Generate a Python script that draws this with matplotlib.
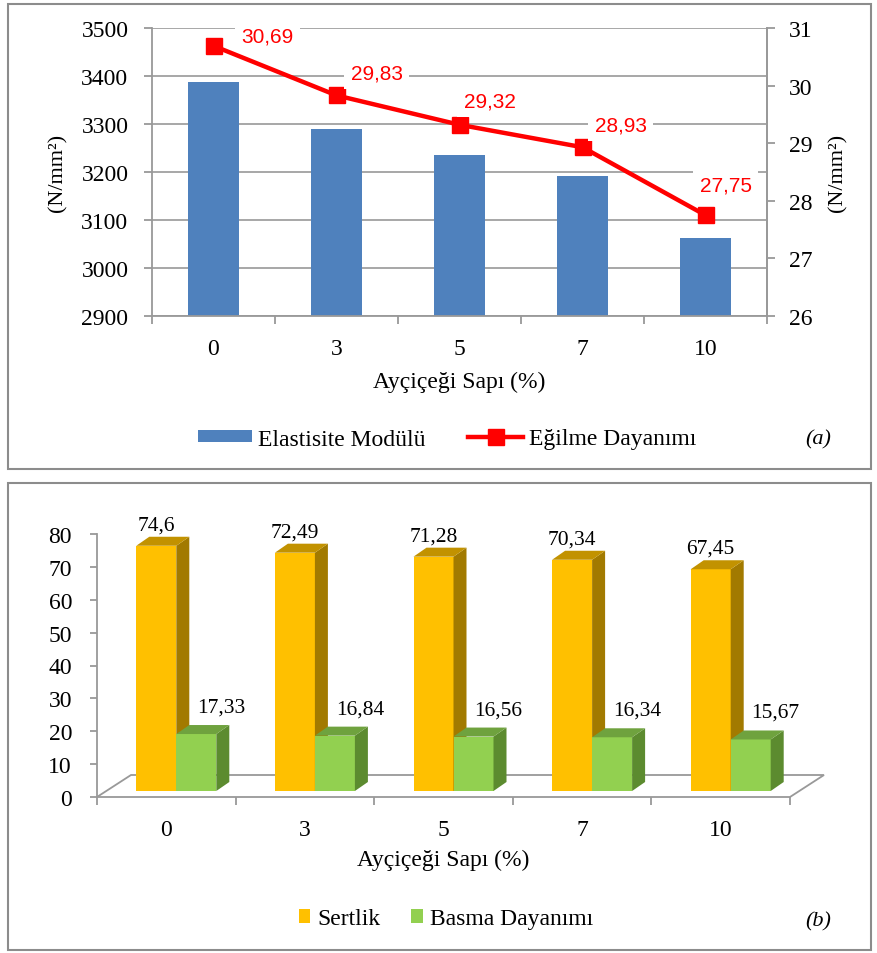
import numpy as np
import matplotlib.pyplot as plt
from matplotlib.patches import Rectangle, Polygon, Patch
from matplotlib.lines import Line2D

W, H = 877, 954

categories = ['0', '3', '5', '7', '10']
elastisite = [3387, 3290, 3235, 3192, 3062]
egilme = [30.69, 29.83, 29.32, 28.93, 27.75]
sertlik = [74.6, 72.49, 71.28, 70.34, 67.45]
basma = [17.33, 16.84, 16.56, 16.34, 15.67]

# label offsets (pixels) for the red line labels
line_label_off = [(54, 10), (40, 22), (30, 24), (38, 22), (20, 30)]

plt.rcParams['font.family'] = ['Liberation Serif', 'DejaVu Serif']
GREY = '#999999'


def px_rect(l, t, r, b):
    return [l / W, 1 - b / H, (r - l) / W, (b - t) / H]


def fmt(v):
    return f'{v:g}'.replace('.', ',')


fig = plt.figure(figsize=(W / 100, H / 100), dpi=100)

# panel borders
for (l, t, r, b) in [(8, 5, 871, 470), (8, 484, 871, 951)]:
    fig.patches.append(Rectangle((l / W, 1 - b / H), (r - l) / W, (b - t) / H,
                                 transform=fig.transFigure, fill=False,
                                 edgecolor='#8c8c8c', lw=1.5))

# ---------------- (a) ----------------
x = np.arange(len(categories))
ax1 = fig.add_axes(px_rect(152, 29, 767, 317))
ax1.bar(x, elastisite, width=0.41, color='#4F81BD', zorder=2)
ax1.set_xlim(-0.5, 4.5)
ax1.set_ylim(2900, 3500)
ax1.set_yticks(range(2900, 3501, 100))
ax1.grid(axis='y', color='#a0a0a0', lw=1.3, zorder=0)
ax1.set_axisbelow(True)
ax1.set_xticks(x)
ax1.set_xticklabels(categories)
ax1.set_xticks(np.arange(-0.5, 5, 1), minor=True)
ax1.tick_params(axis='x', which='major', length=0, labelsize=17, pad=16)
ax1.tick_params(axis='x', which='minor', length=6, color=GREY, width=1.3)
ax1.tick_params(axis='y', length=6, color=GREY, width=1.3, labelsize=17, pad=11)
ax1.spines['top'].set_visible(False)
for s in ['left', 'bottom', 'right']:
    ax1.spines[s].set_color(GREY)
    ax1.spines[s].set_linewidth(1.3)
ax1.set_ylabel('(N/mm²)', fontsize=16)
ax1.yaxis.set_label_coords(-0.137, 0.5)
ax1.set_xlabel('Ayçiçeği Sapı (%)', fontsize=17, labelpad=8)

ax2 = ax1.twinx()
ax2.plot(x, egilme, color='#FF0000', lw=3.2, marker='s', markersize=11, zorder=3)
ax2.set_ylim(26, 31)
ax2.set_yticks(range(26, 32))
ax2.tick_params(axis='y', length=6, color=GREY, width=1.3, labelsize=17, pad=10)
for s in ['top', 'left', 'bottom']:
    ax2.spines[s].set_visible(False)
ax2.spines['right'].set_color(GREY)
ax2.spines['right'].set_linewidth(1.3)
ax2.set_ylabel('(N/mm²)', fontsize=16)
ax2.yaxis.set_label_coords(1.099, 0.5)
for xi, v, (ox, oy) in zip(x, egilme, line_label_off):
    ax2.annotate(fmt(v), (xi, v), xytext=(ox * 0.72, oy * 0.72),
                 textcoords='offset points', ha='center', va='center',
                 color='#FF0000', fontsize=15, family='Liberation Sans',
                 bbox=dict(boxstyle='square,pad=0.3', fc='white', ec='none'))

handles_a = [Patch(facecolor='#4F81BD', edgecolor='none'),
             Line2D([], [], color='#FF0000', lw=3.2, marker='s', markersize=11)]
fig.legend(handles_a, ['Elastisite Modülü', 'Eğilme Dayanımı'], loc='center',
           bbox_to_anchor=(447 / W, 1 - 440 / H), ncol=2, frameon=False,
           fontsize=17, handlelength=2.3, handleheight=0.45,
           handletextpad=0.25, columnspacing=1.8)
fig.text(818 / W, 1 - 440 / H, '(a)', style='italic', fontsize=16,
         ha='center', va='center')

# ---------------- (b) ----------------
ax3 = fig.add_axes(px_rect(97, 535, 790, 798))
ax3.set_xlim(-0.5, 4.5)
ax3.set_ylim(0, 80)
ax3.set_yticks(range(0, 81, 10))
ax3.set_xticks(x)
ax3.set_xticklabels(categories)
ax3.set_xticks(np.arange(-0.5, 5, 1), minor=True)
ax3.tick_params(axis='x', which='major', length=0, labelsize=17, pad=16)
ax3.tick_params(axis='x', which='minor', length=6, color=GREY, width=1.3)
ax3.tick_params(axis='y', length=5, color=GREY, width=1.3, labelsize=17, pad=13)
for s in ['top', 'right']:
    ax3.spines[s].set_visible(False)
for s in ['left', 'bottom']:
    ax3.spines[s].set_color(GREY)
    ax3.spines[s].set_linewidth(1.3)
ax3.set_xlabel('Ayçiçeği Sapı (%)', fontsize=17, labelpad=6)

# pixel -> data scale for the fake 3-D
ux = 5.0 / (790 - 97)
uy = 80.0 / (798 - 535)
floor_dx, floor_dy = 34 * ux, 22 * uy
base_dx, base_dy = 10 * ux, 6 * uy
bar_w = 40 * ux
depth_dx, depth_dy = 13 * ux, 9 * uy

# floor outline
ax3.add_patch(Polygon([(-0.5, 0), (-0.5 + floor_dx, floor_dy),
                       (4.5 + floor_dx, floor_dy), (4.5, 0)],
                      closed=False, fill=False, edgecolor=GREY, lw=1.3,
                      clip_on=False, zorder=1))


def box(x0, h, front, side, top):
    y0 = base_dy
    ax3.add_patch(Rectangle((x0, y0), bar_w, h, facecolor=front,
                            edgecolor='none', clip_on=False, zorder=2))
    ax3.add_patch(Polygon([(x0 + bar_w, y0), (x0 + bar_w + depth_dx, y0 + depth_dy),
                           (x0 + bar_w + depth_dx, y0 + h + depth_dy),
                           (x0 + bar_w, y0 + h)],
                          facecolor=side, edgecolor='none', clip_on=False, zorder=2))
    ax3.add_patch(Polygon([(x0, y0 + h), (x0 + depth_dx, y0 + h + depth_dy),
                           (x0 + bar_w + depth_dx, y0 + h + depth_dy),
                           (x0 + bar_w, y0 + h)],
                          facecolor=top, edgecolor='none', clip_on=False, zorder=2))


for xi, s, b in zip(x, sertlik, basma):
    xo = xi - 30 * ux
    xg = xo + bar_w
    box(xo, s, '#FFC000', '#A27A00', '#C29200')
    box(xg, b, '#92D050', '#5C8B2F', '#6FA23E')
    ax3.annotate(fmt(s), (xo + bar_w / 2, base_dy + s), xytext=(0, 21 * 0.72),
                 textcoords='offset points', ha='center', va='center',
                 fontsize=15.5, annotation_clip=False)
    ax3.annotate(fmt(b), (xg + bar_w / 2, base_dy + b), xytext=(25 * 0.72, 27 * 0.72),
                 textcoords='offset points', ha='center', va='center',
                 fontsize=15.5, annotation_clip=False)

handles_b = [Patch(facecolor='#FFC000', edgecolor='none'),
             Patch(facecolor='#92D050', edgecolor='none')]
fig.legend(handles_b, ['Sertlik', 'Basma Dayanımı'], loc='center',
           bbox_to_anchor=(446 / W, 1 - 920 / H), ncol=2, frameon=False,
           fontsize=17, handlelength=0.5, handleheight=0.5,
           handletextpad=0.3, columnspacing=1.3)
fig.text(818 / W, 1 - 922 / H, '(b)', style='italic', fontsize=16,
         ha='center', va='center')

fig.savefig('out.png', dpi=100)
